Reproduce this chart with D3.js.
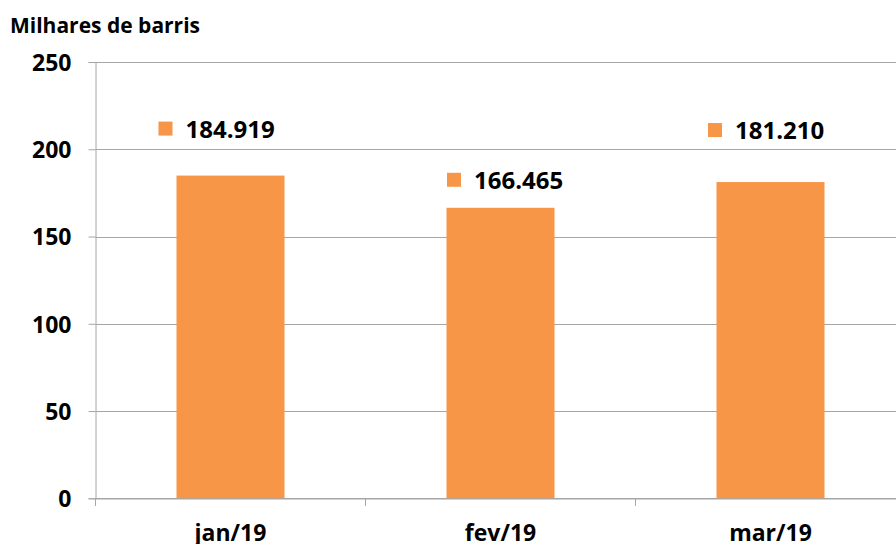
<!DOCTYPE html>
<html><head><meta charset="utf-8">
<script src="https://cdn.jsdelivr.net/npm/d3@7"></script>
<style>body{margin:0;background:#fff}svg{display:block}</style>
</head><body>
<svg id="c" width="896" height="544"></svg>
<script>
const categories = ["jan/19", "fev/19", "mar/19"];
const values = [184.919, 166.465, 181.210];
const valueLabels = ["184.919", "166.465", "181.210"];
const yTicks = [0, 50, 100, 150, 200, 250];
const unitLabel = "Milhares de barris";

// manual label placement (layout only)
const labelDx = [-72, -53.5, -62.5];
const labelDy = [38, 19, 43];

(function () {
const svg = d3.select("#c");
const font = "'Open Sans', sans-serif";
const mLeft = 95.5, mRight = 905.5, mTop = 62, mBottom = 498.3;
const x = d3.scaleBand().domain(categories).range([mLeft, mRight]).paddingInner(0.6).paddingOuter(0.3);
const y = d3.scaleLinear().domain([0, 250]).range([mBottom, mTop]);
const grid = "#a6a6a6";

// gridlines
svg.append("g").selectAll("line").data(yTicks).join("line")
  .attr("x1", mLeft).attr("x2", mRight)
  .attr("y1", d => Math.round(y(d)) + 0.5).attr("y2", d => Math.round(y(d)) + 0.5)
  .attr("stroke", grid).attr("stroke-width", 1);

// y axis
const ya = svg.append("g").attr("transform", `translate(${mLeft},0)`)
  .call(d3.axisLeft(y).tickValues(yTicks).tickSize(7).tickPadding(17).tickFormat(d3.format("d")));
ya.select(".domain").attr("stroke", grid);
ya.selectAll(".tick line").attr("stroke", grid);
ya.selectAll(".tick text").attr("font-family", font).attr("font-weight", "bold")
  .attr("font-size", 23).attr("fill", "#000").attr("dy", "0.36em");

// bars
svg.append("g").selectAll("rect").data(values).join("rect")
  .attr("x", (d, i) => x(categories[i]))
  .attr("width", x.bandwidth())
  .attr("y", d => y(d))
  .attr("height", d => y(0) - y(d))
  .attr("fill", "#F79646");

// x axis
const xb = d3.scaleBand().domain(categories).range([mLeft, mRight]);
const xa = svg.append("g").attr("transform", `translate(0,${Math.round(mBottom) + 0.5})`)
  .call(d3.axisBottom(xb).tickSize(0).tickPadding(26));
xa.select(".domain").attr("stroke", grid);
xa.selectAll(".tick text").attr("font-family", font).attr("font-weight", "bold")
  .attr("font-size", 23).attr("fill", "#000");
// category separators
svg.append("g").selectAll("line").data(categories.concat(["end"])).join("line")
  .attr("x1", (d, i) => mLeft + i * xb.bandwidth()).attr("x2", (d, i) => mLeft + i * xb.bandwidth())
  .attr("y1", Math.round(mBottom)).attr("y2", Math.round(mBottom) + 8)
  .attr("stroke", grid);

// data labels
const lg = svg.append("g").selectAll("g").data(values).join("g")
  .attr("transform", (d, i) => `translate(${x(categories[i]) + x.bandwidth() / 2 + labelDx[i]},${y(d) - labelDy[i]})`);
lg.append("rect").attr("x", 0).attr("y", -16).attr("width", 14).attr("height", 14).attr("fill", "#F79646");
lg.append("text").attr("x", 27).attr("y", 0)
  .attr("font-family", font).attr("font-weight", "bold").attr("font-size", 24).attr("fill", "#000")
  .text((d, i) => valueLabels[i]);

// unit label
svg.append("text").attr("x", 10).attr("y", 33)
  .attr("font-family", font).attr("font-weight", "bold").attr("font-size", 21).attr("fill", "#000")
  .text(unitLabel);
})();
</script>
</body></html>
